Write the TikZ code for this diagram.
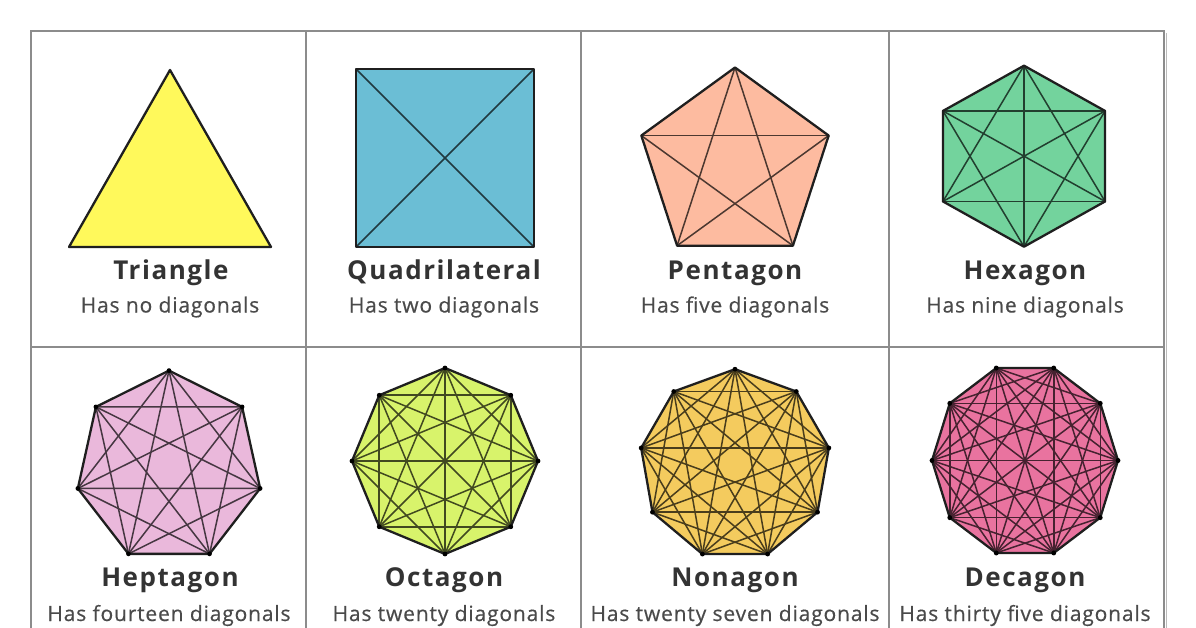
\documentclass[tikz,border=0pt]{standalone}
\usepackage{fontspec}
\setmainfont{Open Sans}
\newfontfamily\titlefont[LetterSpace=6]{Open Sans Bold}
\newfontfamily\subfont[LetterSpace=4,FakeBold=0.5]{Open Sans}
\definecolor{frameC}{HTML}{8C8C8C}
\definecolor{titleC}{HTML}{333333}
\definecolor{subC}{HTML}{4A4A4A}
\definecolor{triC}{HTML}{FFF95B}
\definecolor{quadC}{HTML}{6BBED5}
\definecolor{pentC}{HTML}{FDBBA0}
\definecolor{hexC}{HTML}{73D39D}
\definecolor{heptC}{HTML}{EAB8DB}
\definecolor{octC}{HTML}{D8F36B}
\definecolor{nonC}{HTML}{F4CB5E}
\definecolor{decC}{HTML}{E9739F}
\tikzset{
  gridline/.style={draw=frameC, line width=1.3pt},
  outline/.style={draw=black!88, line width=2.3pt, line join=round},
  title/.style={anchor=base, text=titleC, font=\titlefont\fontsize{26}{30}\selectfont},
  subtitle/.style={anchor=base, text=subC, font=\subfont\fontsize{21}{24}\selectfont},
}
% #1 n, #2 cx, #3 cy, #4 R, #5 start angle, #6 colour, #7 xscale, #8 yscale, #9 prefix
\newcommand\mypoly[9]{%
  \begin{scope}[shift={(#2,#3)}, xscale=#7, yscale=#8]
    \foreach \k in {1,...,#1}{
      \coordinate (#9\k) at ({#5+(\k-1)*360/#1}:#4);
    }
    \fill[#6] (#91) \foreach \k in {2,...,#1}{ -- (#9\k)} -- cycle;
    \foreach \i in {1,...,#1}{
      \foreach \j in {1,...,#1}{
        \ifnum\numexpr\j-\i\relax>1
          \ifnum\numexpr\j-\i\relax<\numexpr#1-1\relax
            \draw[line width=1.5pt, draw=#6!30!black] (#9\i) -- (#9\j);
          \fi
        \fi
      }
    }
    \draw[outline] (#91) \foreach \k in {2,...,#1}{ -- (#9\k)} -- cycle;
    \ifnum#1>6
    \foreach \k in {1,...,#1}{
      \fill[black] (#9\k) circle (2.4);
    }
    \fi
  \end{scope}
}
\begin{document}
\begin{tikzpicture}[x=1pt, y=-1pt]
\useasboundingbox (0,0) rectangle (1196,628);
\fill[white] (0,0) rectangle (1196,628);
\begin{scope}
\clip (0,0) rectangle (1196,628);
% grid
\draw[gridline] (31,640) -- (31,31) -- (1164,31) -- (1164,640);
\draw[draw=frameC!60, line width=1.2pt] (1166.5,33) -- (1166.5,640);
\draw[gridline] (306,31) -- (306,640);
\draw[gridline] (581,31) -- (581,640);
\draw[gridline] (889,31) -- (889,640);
\draw[gridline] (31,347) -- (1164,347);
\end{scope}

% Triangle
\coordinate (t1) at (170,70);
\coordinate (t2) at (271,247);
\coordinate (t3) at (69,247);
\fill[triC] (t1) -- (t2) -- (t3) -- cycle;
\draw[outline] (t1) -- (t2) -- (t3) -- cycle;
\node[title] (ntri) at (171,279.5) {Triangle};
\node[subtitle] (stri) at (170,312.5) {Has no diagonals};

% Quadrilateral
\coordinate (q1) at (356,69);
\coordinate (q2) at (534,69);
\coordinate (q3) at (534,247);
\coordinate (q4) at (356,247);
\fill[quadC] (q1) -- (q2) -- (q3) -- (q4) -- cycle;
\draw[line width=1.5pt, draw=quadC!30!black] (q1) -- (q3) (q2) -- (q4);
\draw[outline] (q1) -- (q2) -- (q3) -- (q4) -- cycle;
\node[title] (nquad) at (444,279.5) {Quadrilateral};
\node[subtitle] (squad) at (444,312.5) {Has two diagonals};

% Pentagon
\mypoly{5}{735}{166}{98.5}{270}{pentC}{1}{1}{p}
\node[title] (npent) at (735,279.5) {Pentagon};
\node[subtitle] (spent) at (735,312.5) {Has five diagonals};

% Hexagon
\mypoly{6}{1024}{156.2}{90.5}{270}{hexC}{1.034}{1}{h}
\node[title] (nhex) at (1025,279.5) {Hexagon};
\node[subtitle] (shex) at (1025,312.5) {Has nine diagonals};

% Heptagon
\mypoly{7}{169}{467}{96.4}{270}{heptC}{0.97}{1}{s}
\node[title] (nhept) at (170,586) {Heptagon};
\node[subtitle] (shept) at (169,621) {Has fourteen diagonals};

% Octagon
\mypoly{8}{445}{461}{93}{270}{octC}{1}{1}{o}
\node[title] (noct) at (444,586) {Octagon};
\node[subtitle] (soct) at (444,621) {Has twenty diagonals};

% Nonagon
\mypoly{9}{735}{464.5}{95.3}{270}{nonC}{1}{1}{n}
\node[title] (nnon) at (735,586) {Nonagon};
\node[subtitle] (snon) at (735,621) {Has twenty seven diagonals};

% Decagon
\mypoly{10}{1025}{460.5}{93}{0}{decC}{1}{1.045}{d}
\node[title] (ndec) at (1025,586) {Decagon};
\node[subtitle] (sdec) at (1025,621) {Has thirty five diagonals};
\end{tikzpicture}
\end{document}
